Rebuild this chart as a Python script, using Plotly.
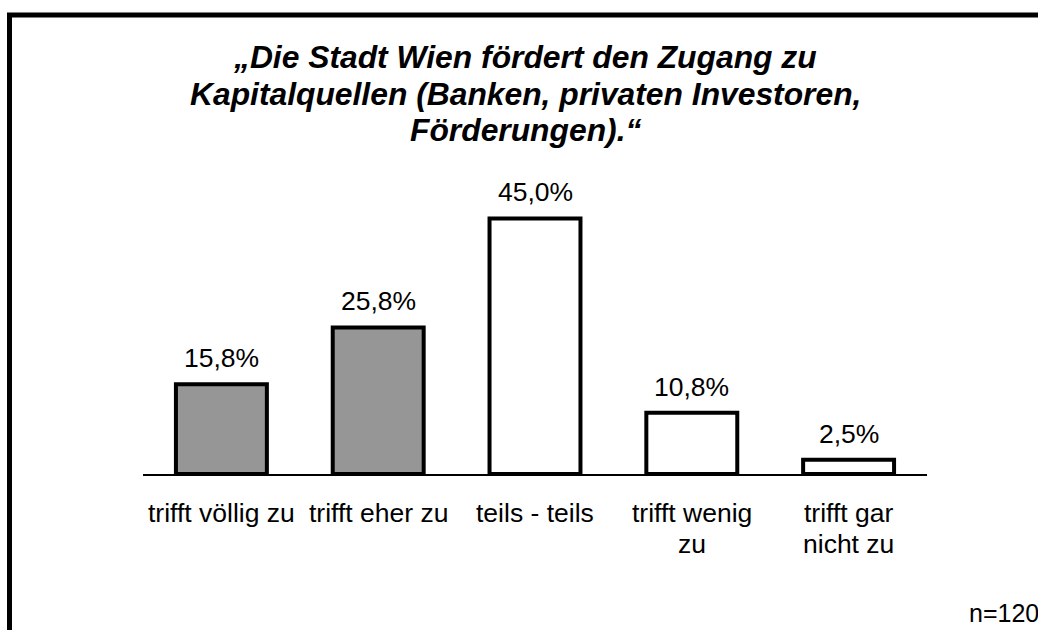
import plotly.graph_objects as go

categories = ["trifft völlig zu", "trifft eher zu", "teils - teils", "trifft wenig<br>zu", "trifft gar<br>nicht zu"]
values = [15.8, 25.8, 45.0, 10.8, 2.5]
value_labels = ["15,8%", "25,8%", "45,0%", "10,8%", "2,5%"]
bar_colors = ["#969696", "#969696", "#ffffff", "#ffffff", "#ffffff"]
title_lines = ["„Die Stadt Wien fördert den Zugang zu",
               "Kapitalquellen (Banken, privaten Investoren,",
               "Förderungen).“"]
note = "n=120"

W, H = 1038, 630
# plot area in page pixels: x 143..927, y 190..474
PX0, PX1, PY0, PY1 = 143, 927, 190, 474
L, R, T, B = PX0, W - PX1, PY0, H - PY1
pw, ph = PX1 - PX0, PY1 - PY0

def px_x(x):
    return (x - PX0) / pw

def px_y(y):
    return (PY1 - y) / ph

FONT = "Liberation Sans, Arial, sans-serif"

fig = go.Figure()
fig.add_trace(go.Bar(
    x=list(range(len(categories))), y=values,
    marker=dict(color=bar_colors, line=dict(color="black", width=4)),
    hoverinfo="skip",
))

ann = []
for i, (v, t) in enumerate(zip(values, value_labels)):
    ann.append(dict(x=i, y=v, xref="x", yref="y", text=t, showarrow=False,
                    yanchor="middle", yshift=26,
                    font=dict(family=FONT, size=26.5, color="black")))
for i, c in enumerate(categories):
    for j, line in enumerate(c.split("<br>")):
        ann.append(dict(x=i, y=0, xref="x", yref="paper", text=line, showarrow=False,
                        yanchor="middle", yshift=-39 - 31 * j,
                        font=dict(family=FONT, size=26.5, color="black")))
title_y = [57, 94, 130]
for line, yy in zip(title_lines, title_y):
    ann.append(dict(x=px_x(525), y=px_y(yy), xref="paper", yref="paper", text="<b><i>" + line + "</i></b>",
                    showarrow=False, xanchor="center", yanchor="middle",
                    font=dict(family=FONT, size=31.8, color="black")))
ann.append(dict(x=px_x(967), y=px_y(613), xref="paper", yref="paper", text=note, showarrow=False,
                xanchor="left", yanchor="middle",
                font=dict(family=FONT, size=25, color="black")))

fig.update_layout(
    width=W, height=H,
    margin=dict(l=L, r=R, t=T, b=B, pad=0),
    paper_bgcolor="white", plot_bgcolor="white",
    showlegend=False,
    bargap=0.42,
    annotations=ann,
    shapes=[dict(type="rect", xref="paper", yref="paper",
                 x0=px_x(9.5), x1=px_x(1060), y0=px_y(15), y1=px_y(660),
                 line=dict(color="black", width=5), fillcolor="rgba(0,0,0,0)")],
    xaxis=dict(range=[-0.5, 4.5], showticklabels=False, ticks="", showgrid=False,
               zeroline=False, showline=True, linecolor="black", linewidth=1.5),
    yaxis=dict(range=[0, 50], visible=False, showgrid=False, zeroline=False),
)

fig.write_html("out.html", config={"displayModeBar": False},
               post_script="document.body.style.margin='0';document.body.style.overflow='hidden';")
